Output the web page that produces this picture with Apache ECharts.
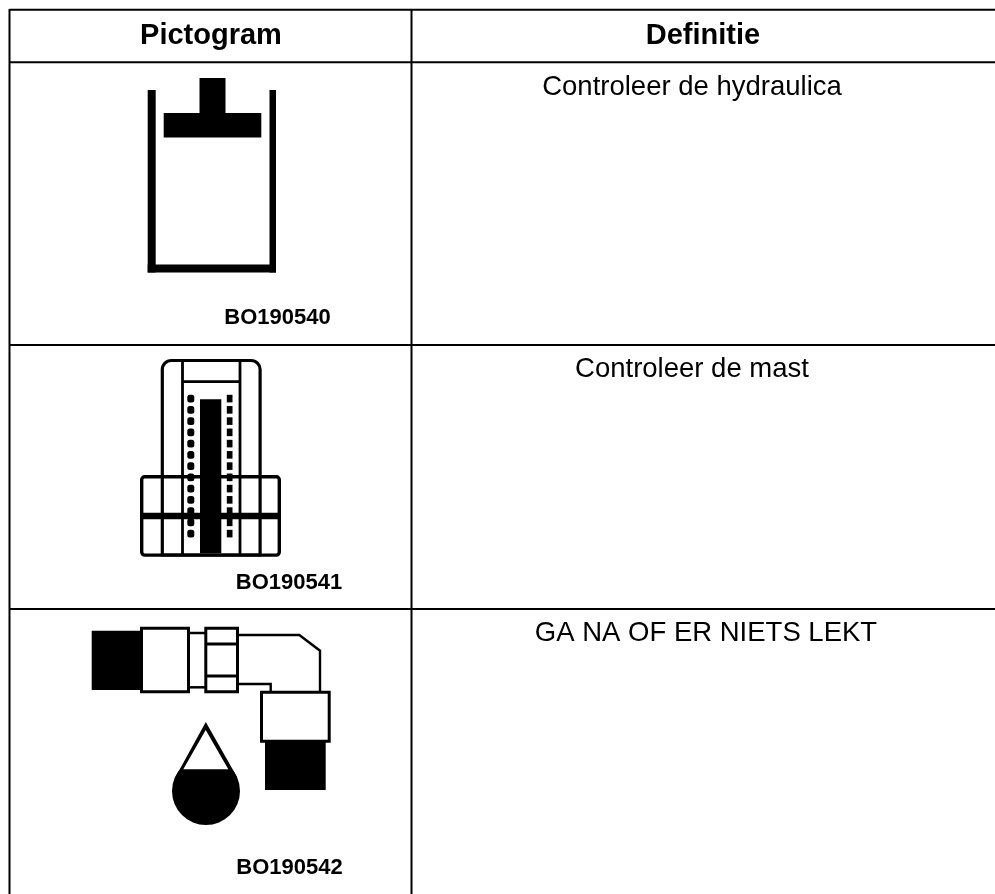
<!DOCTYPE html>
<html>
<head>
<meta charset="utf-8">
<style>html,body{margin:0;padding:0;background:#fff}#c{width:995px;height:894px}</style>
<script src="https://cdn.jsdelivr.net/npm/echarts@6/dist/echarts.min.js"></script>
</head>
<body>
<div id="c"></div>
<script>
var headers = ['Pictogram', 'Definitie'];
var definitions = ['Controleer de hydraulica', 'Controleer de mast', 'GA NA OF ER NIETS LEKT'];
var codes = ['BO190540', 'BO190541', 'BO190542'];

var FONT = '"Liberation Sans", Arial, sans-serif';
var els = [];
function rect(x, y, w, h, r) { els.push({type:'rect', shape:{x:x,y:y,width:w,height:h,r:r||0}, style:{fill:'#000'}, silent:true}); }
function box(x, y, w, h, lw, r, fill) { els.push({type:'rect', shape:{x:x,y:y,width:w,height:h,r:r||0}, style:{fill:fill||'none',stroke:'#000',lineWidth:lw}, silent:true}); }
function line(pts, lw, color) { els.push({type:'polyline', shape:{points:pts}, style:{fill:'none',stroke:color||'#000',lineWidth:lw,lineJoin:'miter'}, silent:true}); }
function poly(pts, fill) { els.push({type:'polygon', shape:{points:pts}, style:{fill:fill||'#000'}, silent:true}); }
function text(s, x, y, size, weight) {
  els.push({type:'text', silent:true, style:{text:s,x:x,y:y,fill:'#000',textAlign:'center',textVerticalAlign:'middle',
    font:(weight||'normal')+' '+size+'px '+FONT}});
}

// table rules
line([[9.5,9.7],[995,9.7]], 2);
line([[9,62.3],[995,62.3]], 2);
line([[9,345],[995,345]], 2);
line([[9,609],[995,609]], 2);
line([[9.5,9],[9.5,894]], 2);
line([[411.5,9],[411.5,894]], 2);

// header and text cells
text(headers[0], 211, 35.5, 29, 'bold');
text(headers[1], 703, 35.5, 29, 'bold');
text(definitions[0], 692, 87, 27.5);
text(definitions[1], 692, 369, 27.5);
text(definitions[2], 706, 633, 27.5);
text(codes[0], 277.5, 317.5, 22, 'bold');
text(codes[1], 289, 582.5, 22, 'bold');
text(codes[2], 289.5, 868, 22, 'bold');

// pictogram 1: hydraulic tank
rect(147.7, 90, 8, 182.5);
rect(269.5, 90, 6.5, 182.5);
rect(147.7, 264.5, 128.3, 8);
rect(199.5, 78, 26, 36);
rect(163.7, 113, 97.6, 24.5);

// pictogram 2: mast
box(162.3, 360.5, 97.8, 194.5, 3.2, [9,9,0,0]);
line([[182.5,360],[182.5,555]], 2.8);
line([[240,360],[240,555]], 2.8);
line([[182.5,381.7],[240,381.7]], 2.8);
box(141.7, 476.7, 137.6, 78.4, 3.4, 3);
rect(140, 512.7, 141, 6.5);
rect(200, 399.3, 21.3, 154);
for (var i = 0; i < 13; i++) {
  var dy = 398.6 + i * 11.25;
  rect(187.3, dy - 3.8, 7, 7.6, 2.5);
  rect(226.8, dy - 3.8, 5.7, 7.6);
}

// pictogram 3: leaking fitting
rect(91.7, 630.7, 50, 59.3);
box(141.5, 628.2, 47, 63.6, 3);
line([[190,633],[205,633]], 2.5);
line([[190,687.3],[205,687.3]], 2.5);
box(205.8, 628.2, 31.7, 63.6, 3);
line([[206,644],[238,644]], 3);
line([[206,676],[238,676]], 3);
line([[239,635],[299.3,635],[320,650.7],[320,691]], 2.4);
line([[239,684],[270.7,684],[270.7,692]], 2.4);
box(261.5, 692.2, 67.7, 49, 3);
rect(265, 740, 60.7, 50);
// drop
poly([[205.8,722],[175.5,777],[237,777]]);
els.push({type:'circle', shape:{cx:206,cy:791,r:34}, style:{fill:'#000'}, silent:true});
poly([[205.7,730],[183.3,769.3],[228.3,769.3]], '#fff');

var chart = echarts.init(document.getElementById('c'));
chart.setOption({animation:false, backgroundColor:'#fff', graphic:{elements:els}});
</script>
</body>
</html>
